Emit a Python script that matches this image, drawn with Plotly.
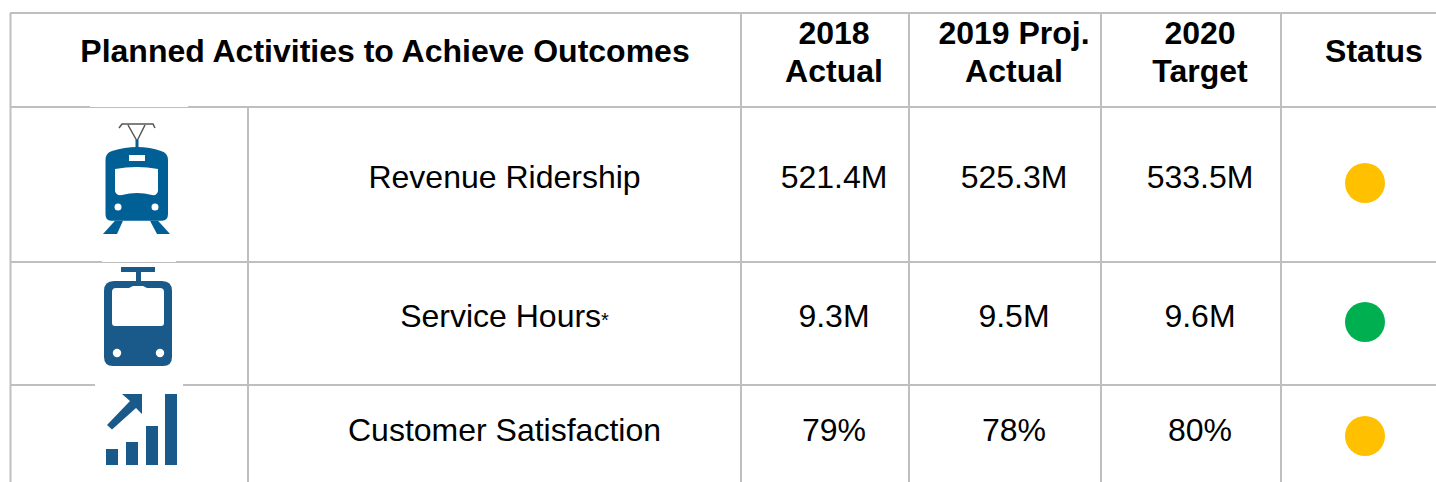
import plotly.graph_objects as go

# ---- chart content ----
headers_top = ["2018", "2019 Proj.", "2020"]
headers_bottom = ["Actual", "Actual", "Target"]
headers_single = ["Planned Activities to Achieve Outcomes", "Status"]
activities = ["Revenue Ridership", "Service Hours<span style=\"font-size:20px\">*</span>", "Customer Satisfaction"]
actual_2018 = ["521.4M", "9.3M", "79%"]
proj_2019 = ["525.3M", "9.5M", "78%"]
target_2020 = ["533.5M", "9.6M", "80%"]
status_colors = ["#ffc000", "#00b050", "#ffc000"]

# ---- layout constants (pixels) ----
W, H = 1436, 482
FONT = "Liberation Sans, Arial, sans-serif"
SINGLE_X, SINGLE_Y = [385, 1374], [54, 54]
COL_X = [834, 1014, 1200]
TOP_Y, BOTTOM_Y = 35.5, 73.5
ROW_TEXT_Y = [179.5, 318.5, 432.5]
ROW_DOT_Y = [183, 322, 436]
ACT_X, DOT_X = 504.5, 1365
GRID = "#bfbfbf"
BLUE1, BLUE2 = "#005f94", "#1a5a8a"
HFONT = dict(family=FONT, size=32, color="#000000")
BFONT = dict(family=FONT, size=32, color="#000000")

fig = go.Figure()
fig.add_trace(go.Scatter(x=SINGLE_X, y=SINGLE_Y, mode="text", text=[f"<b>{h}</b>" for h in headers_single],
                         textposition="middle center", textfont=HFONT))
fig.add_trace(go.Scatter(x=COL_X, y=[TOP_Y] * 3, mode="text", text=[f"<b>{h}</b>" for h in headers_top],
                         textposition="middle center", textfont=HFONT))
fig.add_trace(go.Scatter(x=COL_X, y=[BOTTOM_Y] * 3, mode="text", text=[f"<b>{h}</b>" for h in headers_bottom],
                         textposition="middle center", textfont=HFONT))
fig.add_trace(go.Scatter(x=[ACT_X] * 3, y=ROW_TEXT_Y, mode="text", text=activities,
                         textposition="middle center", textfont=BFONT))
for cx, vals in zip(COL_X, [actual_2018, proj_2019, target_2020]):
    fig.add_trace(go.Scatter(x=[cx] * 3, y=ROW_TEXT_Y, mode="text", text=vals,
                             textposition="middle center", textfont=BFONT))
fig.add_trace(go.Scatter(x=[DOT_X] * 3, y=ROW_DOT_Y, mode="markers",
                         marker=dict(size=40, color=status_colors, line=dict(width=0))))

shapes = []
def line(x0, y0, x1, y1, color=GRID, width=2):
    shapes.append(dict(type="line", x0=x0, y0=y0, x1=x1, y1=y1, line=dict(color=color, width=width), layer="below"))
def rect(x0, y0, x1, y1, color):
    shapes.append(dict(type="rect", x0=x0, y0=y0, x1=x1, y1=y1, fillcolor=color, line=dict(width=0), layer="above"))
def poly(path, color):
    shapes.append(dict(type="path", path=path, fillcolor=color, line=dict(width=0), layer="above"))
def circ(cx, cy, r, color):
    shapes.append(dict(type="circle", x0=cx - r, y0=cy - r, x1=cx + r, y1=cy + r, fillcolor=color, line=dict(width=0), layer="above"))

# grid
for y in (13, 107, 262, 385):
    line(10, y, W, y)
line(10.5, 13, 10.5, H)
line(248, 107, 248, H)
for x in (741, 909, 1101, 1281):
    line(x, 13, x, H)
# white icon backgrounds that nick the grid lines
rect(90, 105.5, 188, 107, "#ffffff")
rect(102, 260.5, 176, 262, "#ffffff")
rect(95, 384, 183, 387, "#ffffff")

# tram icon
poly("M105.5,160 Q105.5,153 112,151 Q125,147 137,147 Q150,147 161,151 Q168,153 168,160 L168,214 Q168,220.7 162,220.7 "
     "L111,220.7 Q105.5,220.7 105.5,214 Z", BLUE1)
poly("M115,169 Q137,165 158,169 L158,191 Q157,196 152,195 Q137,191 122,195 Q116,196 115,191 Z", "#ffffff")
rect(129, 155, 145, 161, "#ffffff")
circ(118, 207, 3.5, "#ffffff")
circ(155, 207, 3.5, "#ffffff")
poly("M115,220.7 L123,220.7 L117,234 L103,234 Z", BLUE1)
poly("M150,220.7 L158,220.7 L170,234 L157,234 Z", BLUE1)
shapes.append(dict(type="path", path="M119,128 L122,124 L153,124 L155,128", line=dict(color="#555555", width=1.5), layer="above"))
shapes.append(dict(type="path", path="M128,125 L137,141 L145,125", line=dict(color="#555555", width=1.5), layer="above"))
line(137, 140, 137, 148, BLUE1, 3)
shapes[-1]["layer"] = "above"

# train icon
rect(121, 267, 155, 272, BLUE2)
rect(136, 272, 141, 282, BLUE2)
poly("M114,281 L162,281 Q172,281 172,291 L172,357 Q172,366 163,366 L113,366 Q104,366 104,357 L104,291 Q104,281 114,281 Z", BLUE2)
poly("M116,288 L129,288 L133,286 L143,286 L147,288 L160,288 Q164,288 164,292 L164,323 Q164,326 161,326 L115,326 "
     "Q112,326 112,323 L112,292 Q112,288 116,288 Z", "#ffffff")
circ(117, 353, 4.2, "#ffffff")
circ(160, 353, 4.2, "#ffffff")

# rising-bars icon
for x0, y0, x1 in ((106, 449, 118), (126, 442, 138), (146, 426, 158), (165, 394, 177)):
    rect(x0, y0, x1, 465, BLUE2)
poly("M122,394 L142,394 L142,414 L136,408 L112,429.5 L107,425 L130,401 Z", BLUE2)

fig.update_layout(
    width=W, height=H, margin=dict(l=0, r=0, t=0, b=0), showlegend=False, hovermode=False,
    paper_bgcolor="#ffffff", plot_bgcolor="#ffffff", shapes=shapes,
    xaxis=dict(range=[0, W], visible=False, fixedrange=True),
    yaxis=dict(range=[H, 0], visible=False, fixedrange=True),
)
fig.write_html("out.html", config={"displayModeBar": False},
               post_script="document.body.style.margin='0';document.body.style.overflow='hidden';")
